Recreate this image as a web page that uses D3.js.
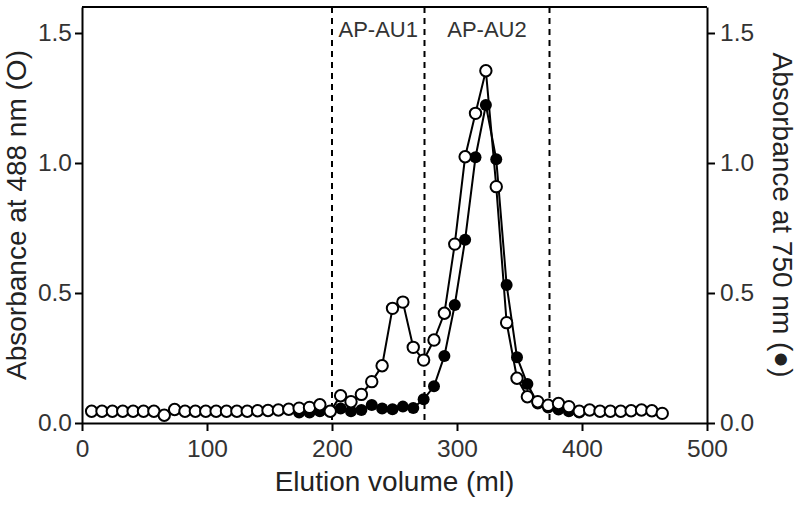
<!DOCTYPE html>
<html>
<head>
<meta charset="utf-8">
<script src="https://cdn.jsdelivr.net/npm/d3@7"></script>
<style>
body { margin: 0; background: #fff; }
svg { display: block; font-family: "Liberation Sans", Arial, sans-serif; }
</style>
</head>
<body>
<div id="chart"></div>
<script>
// elution volume of each fraction (ml)
const volumes = [
  7.7, 16.0, 24.3, 32.6, 40.9, 49.2, 57.5, 65.8, 74.1, 82.4,
  90.7, 99.0, 107.3, 115.6, 123.9, 132.2, 140.5, 148.8, 157.1, 165.4,
  173.7, 182.0, 190.3, 198.6, 206.9, 215.2, 223.5, 231.8, 240.1, 248.4,
  256.7, 265.0, 273.3, 281.6, 289.9, 298.2, 306.5, 314.8, 323.1, 331.4,
  339.7, 348.0, 356.3, 364.6, 372.9, 381.2, 389.5, 397.8, 406.1, 414.4,
  422.7, 431.0, 439.3, 447.6, 455.9, 464.2
];
// absorbance at 488 nm (open circles)
const abs488 = [
  0.045, 0.045, 0.045, 0.045, 0.045, 0.045, 0.045, 0.030, 0.052, 0.045,
  0.045, 0.045, 0.045, 0.045, 0.045, 0.045, 0.047, 0.048, 0.050, 0.053,
  0.057, 0.060, 0.070, 0.045, 0.105, 0.082, 0.110, 0.159, 0.220, 0.441,
  0.465, 0.291, 0.242, 0.319, 0.422, 0.688, 1.024, 1.191, 1.355, 0.909,
  0.386, 0.172, 0.101, 0.082, 0.068, 0.075, 0.063, 0.045, 0.050, 0.045,
  0.045, 0.045, 0.047, 0.050, 0.047, 0.037
];
// absorbance at 750 nm (filled circles), hidden under the open ones elsewhere
const abs750 = [
  null, null, null, null, null, null, null, null, null, null,
  null, null, null, null, null, null, null, null, null, null,
  0.040, 0.040, 0.045, 0.045, 0.056, 0.045, 0.050, 0.069, 0.056, 0.053,
  0.063, 0.058, 0.091, 0.141, 0.258, 0.454, 0.705, 1.022, 1.223, 1.014,
  0.531, 0.253, 0.150, 0.075, 0.060, 0.052, 0.045, 0.040, null, null,
  null, null, null, null, null, null
];
const xTicks = [0, 100, 200, 300, 400, 500];
const yTicks = [0, 0.5, 1.0, 1.5];
const poolBounds = [200, 274, 374];
const poolNames = ["AP-AU1", "AP-AU2"];

const W = 800, H = 506;
const margin = {top: 7, right: 93, bottom: 83, left: 82};
const w = W - margin.left - margin.right;
const h = H - margin.top - margin.bottom;

const svg = d3.select("#chart").append("svg")
  .attr("width", W)
  .attr("height", H);
const g = svg.append("g")
  .attr("transform", "translate(" + margin.left + "," + margin.top + ")");

const x = d3.scaleLinear().domain([0, 500]).range([0, w]);
const y = d3.scaleLinear().domain([0, 1.6]).range([h, 0]);
const y2 = d3.scaleLinear().domain([0, 1.6]).range([h, 0]);

// pooled fraction boundaries
g.selectAll(".pool")
  .data(poolBounds)
  .enter().append("line")
  .attr("x1", d => x(d)).attr("x2", d => x(d))
  .attr("y1", 0).attr("y2", h)
  .attr("stroke", "#000")
  .attr("stroke-width", 2)
  .attr("stroke-dasharray", "6,5");

g.selectAll(".poolLabel")
  .data(poolNames)
  .enter().append("text")
  .attr("x", (d, i) => (x(poolBounds[i]) + x(poolBounds[i + 1])) / 2)
  .attr("y", 30)
  .attr("text-anchor", "middle")
  .attr("font-size", "22px")
  .attr("fill", "#333")
  .text(d => d);

const pts488 = volumes.map((v, i) => ({v: v, a: abs488[i]}));
const pts750 = volumes.map((v, i) => ({v: v, a: abs750[i]})).filter(d => d.a !== null);

const line = d3.line()
  .x(d => x(d.v))
  .y(d => y(d.a));
const line2 = d3.line()
  .x(d => x(d.v))
  .y(d => y2(d.a));

// 750 nm first so the open circles sit on top
g.append("path")
  .datum(pts750)
  .attr("d", line2)
  .attr("fill", "none")
  .attr("stroke", "#000")
  .attr("stroke-width", 2);
g.selectAll(".c750")
  .data(pts750)
  .enter().append("circle")
  .attr("cx", d => x(d.v))
  .attr("cy", d => y2(d.a))
  .attr("r", 6)
  .attr("fill", "#000");

g.append("path")
  .datum(pts488)
  .attr("d", line)
  .attr("fill", "none")
  .attr("stroke", "#000")
  .attr("stroke-width", 2);
g.selectAll(".c488")
  .data(pts488)
  .enter().append("circle")
  .attr("cx", d => x(d.v))
  .attr("cy", d => y(d.a))
  .attr("r", 5.7)
  .attr("fill", "#fff")
  .attr("stroke", "#000")
  .attr("stroke-width", 2);

// axes
const xAxis = g.append("g")
  .attr("transform", "translate(0," + h + ")")
  .call(d3.axisBottom(x).tickValues(xTicks).tickSize(8).tickSizeOuter(0).tickPadding(9));
const yAxis = g.append("g")
  .call(d3.axisLeft(y).tickValues(yTicks).tickFormat(d3.format(".1f")).tickSize(7).tickSizeOuter(0).tickPadding(3));
const yAxis2 = g.append("g")
  .attr("transform", "translate(" + w + ",0)")
  .call(d3.axisRight(y2).tickValues(yTicks).tickFormat(d3.format(".1f")).tickSize(8).tickSizeOuter(0).tickPadding(5));

[xAxis, yAxis, yAxis2].forEach(a => {
  a.select(".domain").attr("stroke-width", 2);
  a.selectAll(".tick line").attr("stroke-width", 2);
  a.selectAll(".tick text")
    .attr("font-size", "24.5px")
    .attr("font-family", "Liberation Sans, Arial, sans-serif")
    .attr("fill", "#333");
});

// top frame line
g.append("line")
  .attr("x1", 0).attr("x2", w)
  .attr("y1", 0).attr("y2", 0)
  .attr("stroke", "#000")
  .attr("stroke-width", 2);

// titles
svg.append("text")
  .attr("x", margin.left + w / 2)
  .attr("y", 491)
  .attr("text-anchor", "middle")
  .attr("font-size", "28px")
  .attr("fill", "#222")
  .text("Elution volume (ml)");

svg.append("text")
  .attr("transform", "translate(26," + (margin.top + h / 2) + ") rotate(-90)")
  .attr("text-anchor", "middle")
  .attr("font-size", "28px")
  .attr("fill", "#222")
  .text("Absorbance at 488 nm (O)");

svg.append("text")
  .attr("transform", "translate(773," + (margin.top + h / 2) + ") rotate(90)")
  .attr("text-anchor", "middle")
  .attr("font-size", "28px")
  .attr("fill", "#222")
  .text("Absorbance at 750 nm (\u25CF)");
</script>
</body>
</html>
